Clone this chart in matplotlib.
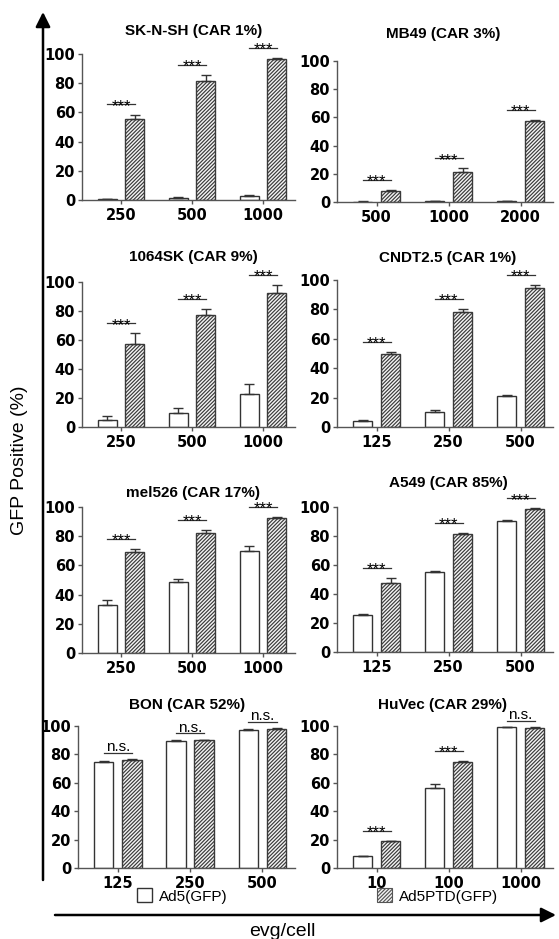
import numpy as np
import matplotlib
matplotlib.use("Agg")
import matplotlib.pyplot as plt
from matplotlib.patches import Patch, FancyArrowPatch

plt.rcParams['font.family'] = ['Liberation Sans', 'DejaVu Sans']
plt.rcParams['hatch.linewidth'] = 0.85

# ---- data ----
titles = ["SK-N-SH (CAR 1%)", "MB49 (CAR 3%)",
          "1064SK (CAR 9%)", "CNDT2.5 (CAR 1%)",
          "mel526 (CAR 17%)", "A549 (CAR 85%)",
          "BON (CAR 52%)", "HuVec (CAR 29%)"]
doses = [["250", "500", "1000"], ["500", "1000", "2000"],
         ["250", "500", "1000"], ["125", "250", "500"],
         ["250", "500", "1000"], ["125", "250", "500"],
         ["125", "250", "500"], ["10", "100", "1000"]]
ad5 = [[0.5, 1.5, 2.8], [0.3, 0.4, 0.6],
       [5.0, 9.5, 23.0], [4.3, 10.0, 21.0],
       [33.0, 48.5, 70.0], [25.5, 55.0, 90.5],
       [75.0, 89.5, 97.5], [8.5, 56.5, 99.0]]
ad5_err = [[0.3, 0.3, 0.5], [0.1, 0.1, 0.2],
           [2.5, 3.5, 6.5], [0.3, 1.3, 0.8],
           [3.0, 2.5, 3.0], [0.5, 1.0, 0.8],
           [0.3, 0.4, 0.3], [0.3, 3.0, 0.3]]
ptd = [[55.5, 81.5, 96.5], [8.0, 21.0, 57.5],
       [57.5, 77.0, 92.5], [49.5, 78.5, 94.5],
       [69.0, 82.5, 92.5], [47.5, 81.5, 98.5],
       [76.3, 90.0, 98.0], [19.0, 75.0, 98.8]]
ptd_err = [[3.0, 4.0, 0.5], [0.8, 3.0, 0.8],
           [7.0, 4.5, 5.5], [1.5, 1.5, 2.0],
           [2.0, 1.5, 0.7], [3.5, 0.5, 0.5],
           [0.4, 0.3, 0.3], [0.3, 0.5, 0.3]]
sig = [["***", "***", "***"], ["***", "***", "***"],
       ["***", "***", "***"], ["***", "***", "***"],
       ["***", "***", "***"], ["***", "***", "***"],
       ["n.s.", "n.s.", "n.s."], ["***", "***", "n.s."]]
legend_labels = ["Ad5(GFP)", "Ad5PTD(GFP)"]

# ---- layout (pixels) ----
W, H = 559, 939
boxes = [(82, 295, 54, 200), (337, 553, 61, 202),
         (82, 295, 282, 427), (337, 553, 280, 427),
         (82, 295, 507, 653), (337, 553, 507, 652),
         (78, 295, 726, 868), (337, 553, 726, 868)]
title_off = [(5, 23), (-2, 27), (5, 25), (3, 22),
             (5, 14), (3, 24), (1, 21), (-2, 21)]

edge = '#333333'
hatch = '/////////'
fig = plt.figure(figsize=(W / 100, H / 100), dpi=100)

off, bw = 0.195, 0.27
tick_font = dict(family='DejaVu Sans', weight='bold', size=10.5)

for k in range(8):
    x0, x1, yt, yb = boxes[k]
    ax = fig.add_axes([x0 / W, 1 - yb / H, (x1 - x0) / W, (yb - yt) / H])
    x = np.arange(3)
    ekw = dict(ecolor=edge, elinewidth=1, capsize=3.5, capthick=1)
    ax.bar(x - off, ad5[k], bw, color='white', edgecolor=edge, lw=1,
           yerr=[np.zeros(3), ad5_err[k]], error_kw=ekw, zorder=2)
    ax.bar(x + off, ptd[k], bw, color='#f4f4f4', edgecolor='#3a3a3a', lw=1,
           hatch=hatch, yerr=[np.zeros(3), ptd_err[k]],
           error_kw=ekw, zorder=2)

    for i in range(3):
        top = max(ad5[k][i] + ad5_err[k][i], ptd[k][i] + ptd_err[k][i])
        if sig[k][i] == "n.s.":
            yl = top + 4.5
            ax.annotate(sig[k][i], (i, yl), xytext=(0, 1.2),
                        textcoords='offset points', ha='center',
                        va='baseline', fontsize=11, annotation_clip=False)
        else:
            yl = top + 7
            ax.annotate(sig[k][i], (i, yl), xytext=(0, -4.6),
                        textcoords='offset points', ha='center',
                        va='baseline', fontsize=12, annotation_clip=False)
        ax.plot([i - off, i + off], [yl, yl], color=edge, lw=0.9,
                clip_on=False)

    ax.set_ylim(0, 100)
    ax.set_xlim(-0.55, 2.45)
    ax.set_yticks(range(0, 101, 20))
    ax.set_xticks(x)
    ax.set_xticklabels(doses[k])
    for lab in ax.get_xticklabels() + ax.get_yticklabels():
        lab.set_fontproperties(tick_font)
    ax.tick_params(length=3, width=1, color='#555555', pad=2)
    ax.tick_params(axis='x', pad=2.5)
    for s in ['top', 'right']:
        ax.spines[s].set_visible(False)
    for s in ['left', 'bottom']:
        ax.spines[s].set_color('#555555')
        ax.spines[s].set_linewidth(1)

    dx, dy = title_off[k]
    ax.annotate(titles[k], (0.5, 1), xycoords='axes fraction',
                xytext=(dx, dy), textcoords='offset pixels', ha='center',
                va='center', fontsize=11, fontweight='bold',
                annotation_clip=False)

# legend
h_white = Patch(facecolor='white', edgecolor=edge, lw=1)
h_hatch = Patch(facecolor='#f4f4f4', edgecolor='#555555', lw=0.8, hatch=hatch)
for h, lab, xp in [(h_white, legend_labels[0], 137), (h_hatch, legend_labels[1], 377)]:
    fig.legend(handles=[h], labels=[lab], loc='center left',
               bbox_to_anchor=(xp / W, 1 - 896 / H), frameon=False,
               handlelength=1.0, handleheight=1.0, borderpad=0,
               borderaxespad=0, handletextpad=0.45, fontsize=11)

# axis arrows
fig.add_artist(FancyArrowPatch((43 / W, 1 - 880 / H), (43 / W, 1 - 12 / H),
                               transform=fig.transFigure, arrowstyle='-|>',
                               mutation_scale=22, lw=1.8, color='black',
                               shrinkA=0, shrinkB=0))
fig.add_artist(FancyArrowPatch((55 / W, 1 - 915 / H), (556 / W, 1 - 915 / H),
                               transform=fig.transFigure, arrowstyle='-|>',
                               mutation_scale=22, lw=1.8, color='black',
                               shrinkA=0, shrinkB=0))

fig.text(20 / W, 1 - 460 / H, "GFP Positive (%)", rotation=90,
         ha='center', va='center', fontsize=14)
fig.text(282 / W, 1 - 931 / H, "evg/cell", ha='center', va='center',
         fontsize=14)

fig.savefig("out.png", dpi=100)
